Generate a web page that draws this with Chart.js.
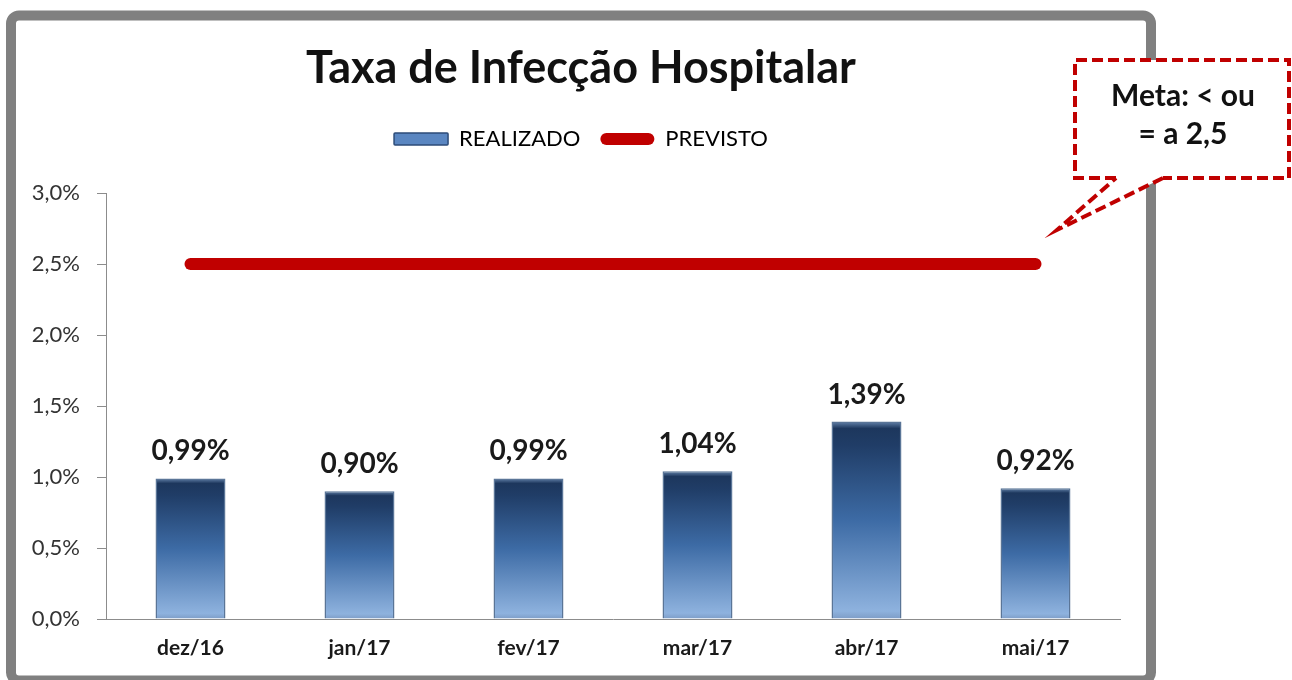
<!DOCTYPE html>
<html>
<head>
<meta charset="utf-8">
<script src="https://cdn.jsdelivr.net/npm/chart.js@4/dist/chart.umd.min.js"></script>
<style>
html,body{margin:0;padding:0;background:#fff;}
#wrap{position:relative;width:1292px;height:680px;}
</style>
</head>
<body>
<div id="wrap"><canvas id="c" width="1292" height="680"></canvas></div>
<script>
const categories = ['dez/16', 'jan/17', 'fev/17', 'mar/17', 'abr/17', 'mai/17'];
const realizado = [0.99, 0.90, 0.99, 1.04, 1.39, 0.92];
const previsto = [2.5, 2.5, 2.5, 2.5, 2.5, 2.5];
const yTicks = [0, 0.5, 1.0, 1.5, 2.0, 2.5, 3.0];
const seriesNames = ['REALIZADO', 'PREVISTO'];
const titleText = 'Taxa de Infecção Hospitalar';
const calloutLines = ['Meta: < ou', '= a 2,5'];

const FONT = 'Lato, "Open Sans", sans-serif';
const fmtPct = (v, d) => v.toFixed(d).replace('.', ',') + '%';

function barGradient(ctx) {
  const chart = ctx.chart;
  const ys = chart.scales && chart.scales.y;
  if (!chart.chartArea || !ys || ctx.raw == null) return '#3f6ea8';
  const top = ys.getPixelForValue(ctx.raw);
  const bottom = ys.getPixelForValue(0);
  if (!isFinite(top) || !isFinite(bottom) || bottom - top < 1) return '#3f6ea8';
  const g = chart.ctx.createLinearGradient(0, top, 0, bottom);
  g.addColorStop(0, '#6483ab');
  g.addColorStop(0.035, '#1d375d');
  g.addColorStop(0.12, '#203d67');
  g.addColorStop(0.5, '#3d6ba5');
  g.addColorStop(0.96, '#8eb2de');
  g.addColorStop(1, '#7d9cc6');
  return g;
}

const framePlugin = {
  id: 'frame',
  beforeDraw(chart) {
    const c = chart.ctx;
    c.save();
    c.fillStyle = '#ffffff';
    c.fillRect(0, 0, chart.width, chart.height);
    c.strokeStyle = '#808080';
    c.lineWidth = 10;
    c.beginPath();
    c.roundRect(11, 15.5, 1140, 665, 8);
    c.stroke();
    c.restore();
  }
};

const valueLabels = {
  id: 'valueLabels',
  afterDatasetsDraw(chart) {
    const c = chart.ctx;
    const meta = chart.getDatasetMeta(0);
    c.save();
    c.font = 'bold 28px ' + FONT;
    c.fillStyle = '#1a1a1a';
    c.textAlign = 'center';
    c.textBaseline = 'alphabetic';
    meta.data.forEach((bar, i) => {
      c.fillText(fmtPct(realizado[i], 2), bar.x, bar.y - 18);
    });
    c.restore();
  }
};

const callout = {
  id: 'callout',
  afterDraw(chart) {
    const c = chart.ctx;
    c.save();
    const x0 = 1075, y0 = 60, x1 = 1289, y1 = 178;
    const p1 = 1116, p2 = 1163, tipX = 1057, tipY = 230;
    c.fillStyle = '#ffffff';
    c.beginPath();
    c.moveTo(x0, y0); c.lineTo(x1, y0); c.lineTo(x1, y1);
    c.lineTo(p2, y1); c.lineTo(tipX, tipY); c.lineTo(p1, y1);
    c.lineTo(x0, y1); c.closePath();
    c.fill();
    c.strokeStyle = '#c00000';
    c.lineWidth = 4;
    c.setLineDash([11, 5]);
    c.lineJoin = 'miter';
    c.beginPath();
    c.moveTo(p1, y1); c.lineTo(x0, y1); c.lineTo(x0, y0); c.lineTo(x1, y0);
    c.lineTo(x1, y1); c.lineTo(p2, y1);
    c.stroke();
    c.beginPath();
    c.moveTo(p2, y1); c.lineTo(tipX, tipY); c.lineTo(p1, y1);
    c.stroke();
    c.setLineDash([]);
    c.fillStyle = '#111111';
    c.font = 'bold 30px ' + FONT;
    c.textAlign = 'center';
    c.textBaseline = 'alphabetic';
    c.fillText(calloutLines[0], 1183, 106);
    c.fillText(calloutLines[1], 1183, 144);
    c.restore();
  }
};

new Chart(document.getElementById('c'), {
  data: {
    labels: categories,
    datasets: [
      {
        type: 'bar',
        label: seriesNames[0],
        data: realizado,
        backgroundColor: barGradient,
        borderColor: '#5a7597',
        borderWidth: 1.5,
        barPercentage: 0.414,
        categoryPercentage: 1.0,
        order: 2
      },
      {
        type: 'line',
        label: seriesNames[1],
        data: previsto,
        borderColor: '#c00000',
        backgroundColor: '#c00000',
        borderWidth: 12,
        borderCapStyle: 'round',
        pointRadius: 0,
        pointHoverRadius: 0,
        tension: 0,
        order: 1
      }
    ]
  },
  options: {
    responsive: false,
    animation: false,
    events: [],
    layout: { padding: { left: 16, right: 146, top: 21, bottom: 12 } },
    plugins: {
      tooltip: { enabled: false },
      title: {
        display: true,
        text: titleText,
        color: '#111111',
        font: { family: FONT, size: 45, weight: 'bold' },
        padding: { top: 20, bottom: 13 }
      },
      legend: {
        display: true,
        position: 'top',
        labels: {
          color: '#222222',
          font: { family: FONT, size: 22 },
          boxWidth: 54,
          boxHeight: 12,
          padding: 20,
          useBorderRadius: true,
          generateLabels: () => [
            { text: seriesNames[0], fillStyle: '#5a86c1', strokeStyle: '#2c4b78', lineWidth: 1.5, datasetIndex: 0, borderRadius: 1, hidden: false },
            { text: seriesNames[1], fillStyle: '#c00000', strokeStyle: '#c00000', lineWidth: 0, datasetIndex: 1, borderRadius: 6, hidden: false }
          ]
        }
      }
    },
    scales: {
      x: {
        type: 'category',
        position: 'bottom',
        grid: { display: false, drawTicks: false },
        border: { display: true, color: '#8c8c8c', width: 1 },
        ticks: { color: '#1a1a1a', font: { family: FONT, size: 21, weight: 'bold' }, padding: 17 },
        afterFit: s => { s.height = 49; }
      },
      xTopSpacer: {
        type: 'category',
        position: 'top',
        grid: { display: false, drawTicks: false },
        border: { display: false },
        ticks: { display: false },
        afterFit: s => { s.height = 33; }
      },
      y: {
        min: 0,
        max: 3,
        position: 'left',
        afterBuildTicks: s => { s.ticks = yTicks.map(v => ({ value: v })); },
        ticks: {
          color: '#333333',
          font: { family: FONT, size: 22 },
          padding: 17,
          callback: v => fmtPct(v, 1)
        },
        grid: { drawOnChartArea: false, drawTicks: true, tickLength: 9, color: '#8c8c8c' },
        border: { display: true, color: '#8c8c8c', width: 1 },
        afterFit: s => { s.width = 90; }
      },
      yRightSpacer: {
        position: 'right',
        min: 0,
        max: 3,
        grid: { display: false, drawTicks: false },
        border: { display: false },
        ticks: { display: false },
        afterFit: s => { s.width = 26; }
      }
    }
  },
  plugins: [framePlugin, valueLabels, callout]
});
</script>
</body>
</html>
